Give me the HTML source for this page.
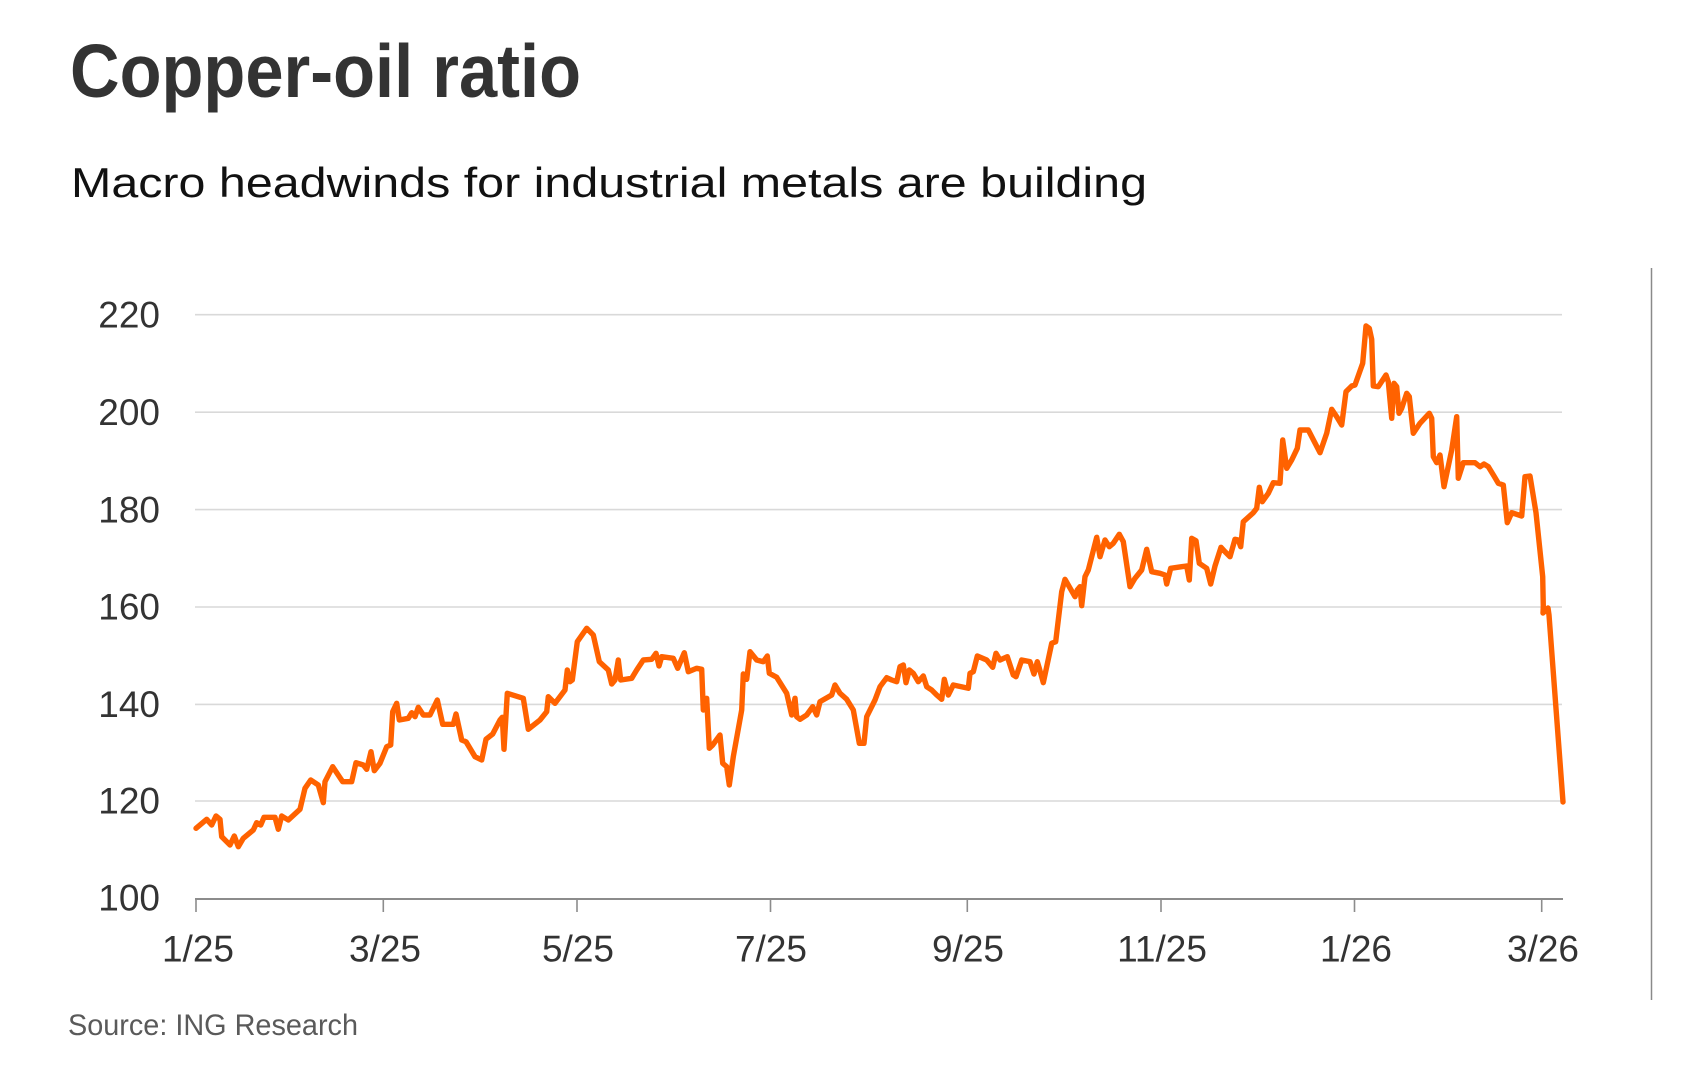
<!DOCTYPE html>
<html>
<head>
<meta charset="utf-8">
<style>
  html,body{margin:0;padding:0;background:#fff;}
  svg{display:block;}
  text{font-family:"Liberation Sans",Arial,sans-serif;}
</style>
</head>
<body>
<svg width="1704" height="1092" viewBox="0 0 1704 1092" xmlns="http://www.w3.org/2000/svg">
  <rect width="1704" height="1092" fill="#fff"/>
  <!-- Title -->
  <text x="70" y="97" font-size="75" font-weight="bold" fill="#333" textLength="511" lengthAdjust="spacingAndGlyphs">Copper-oil ratio</text>
  <text x="71" y="197" font-size="42" fill="#111" textLength="1076" lengthAdjust="spacingAndGlyphs">Macro headwinds for industrial metals are building</text>

  <!-- right border line -->
  <line x1="1651.5" y1="268" x2="1651.5" y2="1000" stroke="#8a8a8a" stroke-width="1.5"/>

  <!-- gridlines -->
  <g stroke="#d9d9d9" stroke-width="1.6">
    <line x1="195" y1="314.7" x2="1562" y2="314.7"/>
    <line x1="195" y1="412.2" x2="1562" y2="412.2"/>
    <line x1="195" y1="509.6" x2="1562" y2="509.6"/>
    <line x1="195" y1="607" x2="1562" y2="607"/>
    <line x1="195" y1="704.4" x2="1562" y2="704.4"/>
    <line x1="195" y1="801" x2="1562" y2="801"/>
  </g>

  <!-- y labels -->
  <g font-size="37" fill="#333" text-anchor="end">
    <text x="160" y="327.5">220</text>
    <text x="160" y="425">200</text>
    <text x="160" y="522.3">180</text>
    <text x="160" y="619.7">160</text>
    <text x="160" y="717">140</text>
    <text x="160" y="813.7">120</text>
    <text x="160" y="910.5">100</text>
  </g>

  <!-- x axis -->
  <line x1="195" y1="899" x2="1563" y2="899" stroke="#8c8c8c" stroke-width="2"/>
  <g stroke="#8c8c8c" stroke-width="1.6">
    <line x1="196" y1="899" x2="196" y2="912"/>
    <line x1="383.3" y1="899" x2="383.3" y2="912"/>
    <line x1="577" y1="899" x2="577" y2="912"/>
    <line x1="770.5" y1="899" x2="770.5" y2="912"/>
    <line x1="967.3" y1="899" x2="967.3" y2="912"/>
    <line x1="1161" y1="899" x2="1161" y2="912"/>
    <line x1="1354.5" y1="899" x2="1354.5" y2="912"/>
    <line x1="1541.7" y1="899" x2="1541.7" y2="912"/>
  </g>
  <g font-size="37" fill="#333" text-anchor="middle">
    <text x="198" y="961.5">1/25</text>
    <text x="385" y="961.5">3/25</text>
    <text x="578" y="961.5">5/25</text>
    <text x="771" y="961.5">7/25</text>
    <text x="968" y="961.5">9/25</text>
    <text x="1162" y="961.5">11/25</text>
    <text x="1356" y="961.5">1/26</text>
    <text x="1543" y="961.5">3/26</text>
  </g>

  <!-- series -->
  <polyline fill="none" stroke="#FF6200" stroke-width="5.4" stroke-linejoin="round" stroke-linecap="round" points="
196,828.3 206.7,819.3 211.7,825 216,816 220,819.3 221.7,836.7 230,845 234.3,836 238.3,846.7 243.3,838.3
253.3,830 256.7,822.7 260.7,825 264,817.3 275,817.3 278.3,829.3 281.7,816 288.3,820 300,809.3 305,788.3
310.7,780 318.3,785 323.3,802.7 325,781.7 332.7,766.7 342.7,781.7 351.7,781.7 356,762.7 363.3,765 366.7,769.3
371,751.7 374.3,770.7 380,763.3 386.7,746.7 390.7,745 392.7,711.7 396.7,703.3 399.3,720 408.3,718.3 411.7,712.7
415,716.7 418.3,707.3 423.3,715 430,715 437.3,700 442.7,724.3 453.3,724.3 456,714 461.7,740 466,741.7
475,756.7 481.7,760 486,739.3 492.7,734 500,720 502.3,717.3 504,749.3 507.3,693.3 523.3,698.3 528.3,729.3
540,720 546.7,711.7 548.3,696.7 555,703.3 565,690 567.3,670 570,681.7 572.3,680 577.3,641.7 586.7,628.3
593.3,635 599.3,661.7 608.3,670 611.7,684 615,680 618.3,660 620.7,680 631.7,678.3 636.7,670 643.3,660
651.7,659.3 656,653.3 659,666 661.7,656.7 673.3,658.3 677.7,668.3 684.3,652.7 688.3,671.7 696.7,668.3 701.7,669.3
703.3,710 706.7,698.3 709.3,748.3 712.7,745 720,735 722.7,763.3 726.7,766.7 729.3,785 733.3,756.7 741.7,710
743.3,674 746.7,679.3 750,651.7 756.7,660 763.3,661.7 767.3,656 769.3,673.3 776.7,677.3 786.7,693.3 791.7,715
795,698.3 796.7,716.7 800,719.3 806.7,715 812.7,706.7 816.7,715 820,701.7 831.7,695 835,685 840,693.3
846.7,699.3 853.3,710 859.3,743.3 864,743.3 866.7,716.7 875,700 880,686.7 886.7,677.7 891.7,680 896.7,681.7
900,666.7 903.3,665 906,682.7 909.3,670 913.3,673.3 918.3,681.7 923.3,676 926.7,686.7 931.7,690 936.7,695
941.7,699.3 944.3,679.3 948.3,695 953.3,685 968.3,688.3 970,673.3 973.3,671.7 977.3,656 986.7,660 992.7,667.3
996,653.3 1000,660 1007.3,656.7 1013.3,675 1016,676.7 1021.7,660 1030,661.7 1034,674 1037.3,661.7 1039.3,668.3
1043.3,682.7 1051.7,643.3 1055.7,641.7 1061.7,591.7 1065,579.3 1075,596.7 1077.3,590 1080,586.7 1081.7,605.7 1085,576.7
1088.3,570 1096.7,537.3 1100,556.7 1105,540 1109.3,546.7 1113.3,543.3 1119.3,534.3 1123.3,541.7 1130,586.7 1135,578.3
1141.7,570 1146.7,549.3 1151.7,571.7 1160,573.3 1165,575 1166.7,584 1170.7,568.3 1181.7,566.7 1186.7,566 1189.3,580
1191.7,538.3 1196,540.7 1199.3,563.3 1206.7,568.3 1210.7,584 1215,566 1221,547.3 1225,551.7 1230,556.7 1235,539.3
1238.3,540 1240.7,546.7 1243.3,521.7 1253.3,512.7 1256.7,508.3 1259.3,487.3 1262.3,501.7 1268.3,493.3 1273.3,482.7 1280,483.3
1282.7,440 1286.7,468.3 1291.7,460 1297.3,448.3 1300,430 1308.3,430 1320,452.7 1326.7,433.3 1331.7,409.3 1336.7,416.7
1341.7,425 1346,391.7 1351.7,386 1355,385 1362.7,363.3 1366,326 1369.3,328.3 1371.7,339.3 1373.3,386 1378.3,386.7
1386,375 1388.3,381.7 1391.7,418.3 1394,383.3 1396.7,386.7 1399,413.3 1401.7,408.3 1406.7,393.3 1409.3,396.7 1413.3,433.3
1420,423.3 1429.3,413.3 1431.7,418.3 1433.3,456.7 1436.7,462.7 1440,455 1444,486.7 1451.7,450 1456.7,416.7 1458.3,478.3
1463.3,462.7 1475,462.7 1480,466.7 1484,464 1488.3,466.7 1494,476 1498.3,483.3 1503.3,485 1507.3,522.7 1511.7,512.7
1521.7,516 1525,476.7 1530,476 1536,512.7 1542.7,576.7 1543.3,606.7 1543,613 1548,608 1549,615 1563,802"/>

  <!-- source -->
  <text x="68" y="1035" font-size="30" fill="#5a5a5a" textLength="290" lengthAdjust="spacingAndGlyphs">Source: ING Research</text>
</svg>
</body>
</html>
